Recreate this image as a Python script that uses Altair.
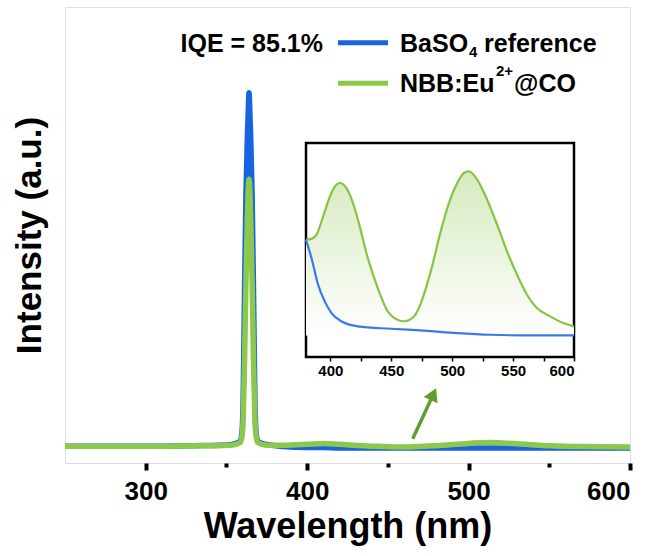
import altair as alt
import pandas as pd

# ---------------- data ----------------
wavelength = [250, 280, 310, 330, 345, 352, 356, 358.5, 359.7, 360.4, 361.2, 362.1, 363, 363.5,
              364, 364.5, 365, 365.9, 366.8, 367.6, 368.3, 369.5, 372, 376,
              385, 400, 410, 420, 440, 458, 480, 500, 512, 530, 550, 570, 600]
baso4 = [0.037, 0.037, 0.037, 0.038, 0.039,
         0.040, 0.043, 0.048, 0.07, 0.15, 0.37, 0.59, 0.72, 0.77, 0.812, 0.77, 0.72, 0.59, 0.37,
         0.15, 0.07, 0.048, 0.043, 0.040,
         0.036, 0.034, 0.034, 0.033, 0.033, 0.033, 0.033, 0.033, 0.033, 0.033, 0.033, 0.033, 0.033]
sample = [0.037, 0.037, 0.037, 0.038, 0.038,
          0.039, 0.041, 0.045, 0.06, 0.10, 0.22, 0.40, 0.54, 0.60, 0.622, 0.60, 0.54, 0.40, 0.22,
          0.10, 0.06, 0.045, 0.041, 0.039,
          0.039, 0.041, 0.043, 0.041, 0.037, 0.035, 0.038, 0.043, 0.045, 0.042, 0.038, 0.036, 0.035]

inset_wl_sample = [380, 385, 388.6, 395.4, 400.8, 404.9, 407.6, 413.1, 418.5, 422.6, 430.7, 438.9,
                   447.1, 452.5, 460.7, 468.8, 474.3, 482.4, 490.6, 497.4, 504.2, 509.7, 513.7,
                   520.5, 528.7, 536.9, 545.0, 553.2, 561.4, 569.5, 580.4, 591.3, 600]
inset_sample = [0.548, 0.553, 0.572, 0.681, 0.766, 0.805, 0.813, 0.790, 0.720, 0.642, 0.463, 0.322,
                0.213, 0.182, 0.167, 0.190, 0.252, 0.400, 0.587, 0.720, 0.813, 0.860, 0.868,
                0.829, 0.735, 0.618, 0.494, 0.385, 0.291, 0.229, 0.190, 0.159, 0.143]
inset_wl_baso4 = [380, 384.5, 389.9, 395.4, 400.8, 409.0, 422.6, 449.8, 477.0, 504.2, 531.4, 558.6, 600]
inset_baso4 = [0.548, 0.463, 0.338, 0.260, 0.206, 0.167, 0.143, 0.132, 0.123, 0.112, 0.104, 0.101, 0.101]

main_ticks = [300, 350, 400, 450, 500, 550, 600]
inset_ticks = [400, 425, 450, 475, 500, 525, 550, 575, 600]

arrow_tail = [465.4, 0.053]
arrow_head = [478.2, 0.151]

BLUE = "#1764e0"
GREEN = "#8cc84b"
INSET_BLUE = "#3b7ae6"
INSET_GREEN = "#86c441"
ARROW = "#5f9e2f"
FONT = "Liberation Sans"

main_df = pd.DataFrame({"wl": wavelength, "baso4": baso4, "sample": sample})
inset_s = pd.DataFrame({"wl": inset_wl_sample, "v": inset_sample})
inset_b = pd.DataFrame({"wl": inset_wl_baso4, "v": inset_baso4})
frame_df = pd.DataFrame({"x0": [380], "x1": [600], "y0": [0.0], "y1": [1.0]})
arrow_df = pd.DataFrame({"x": [arrow_tail[0]], "y": [arrow_tail[1]],
                         "x2": [arrow_head[0]], "y2": [arrow_head[1]]})
one = pd.DataFrame({"a": [0]})

# ---------------- main panel ----------------
xscale = alt.Scale(domain=[250, 600], nice=False, zero=False)
yscale = alt.Scale(domain=[0, 1], nice=False, zero=False)

xaxis = alt.Axis(
    orient="bottom",
    values=main_ticks,
    labelExpr="datum.value % 100 == 0 ? datum.label : ''",
    tickSize={"condition": {"test": "datum.value % 100 == 0", "value": 7}, "value": 4},
    tickWidth=4, tickColor="black", domain=False, grid=False,
    labelFontSize=26, labelFontWeight="bold", labelColor="black", labelPadding=8,
    title="Wavelength (nm)", titleFontSize=36, titleFontWeight="bold", titleColor="black",
    titlePadding=5,
)
yaxis = alt.Axis(
    orient="left",
    labels=False, ticks=False, domain=False, grid=False,
    title="Intensity (a.u.)", titleFontSize=35, titleFontWeight="bold", titleColor="black",
    titlePadding=18,
)

base = alt.Chart(main_df)
blue_line = base.mark_line(color=BLUE, strokeWidth=5.5, interpolate="monotone").encode(
    x=alt.X("wl:Q", scale=xscale, axis=xaxis),
    y=alt.Y("baso4:Q", scale=yscale, axis=yaxis),
)
green_line = base.mark_line(color=GREEN, strokeWidth=5.5, interpolate="monotone").encode(
    x=alt.X("wl:Q", scale=xscale, axis=xaxis),
    y=alt.Y("sample:Q", scale=yscale, axis=yaxis),
)
arrow_line = alt.Chart(arrow_df).mark_rule(color=ARROW, strokeWidth=3.5).encode(
    x=alt.X("x:Q", scale=xscale, axis=xaxis), x2="x2:Q",
    y=alt.Y("y:Q", scale=yscale, axis=yaxis), y2="y2:Q",
)
arrow_tip = alt.Chart(arrow_df).mark_point(
    shape="triangle-up", filled=True, size=230, angle=24.6, color=ARROW, opacity=1
).encode(
    x=alt.X("x2:Q", scale=xscale, axis=xaxis),
    y=alt.Y("y2:Q", scale=yscale, axis=yaxis),
)

# legend / annotation text
def txt(s, x, y, size=25, align="left"):
    return alt.Chart(one).mark_text(
        text=s, fontSize=size, fontWeight="bold", font=FONT, color="black",
        align=align, baseline="alphabetic"
    ).encode(x=alt.value(x), y=alt.value(y))

def seg(color, y):
    return alt.Chart(one).mark_rule(color=color, strokeWidth=5).encode(
        x=alt.value(273), x2=alt.value(323), y=alt.value(y))

legend = [
    txt("IQE = 85.1%", 258, 45.3, align="right"),
    seg(BLUE, 35.7),
    seg(GREEN, 76.3),
    txt("BaSO", 335, 44.7),
    txt("4", 404, 50.3, size=15),
    txt("reference", 419, 44.7),
    txt("NBB:Eu", 335, 84.7),
    txt("2+", 431, 68.7, size=15),
    txt("@CO", 449, 84.7),
]

main = alt.layer(blue_line, green_line, arrow_line, arrow_tip, *legend)

# ---------------- inset ----------------
ixscale = alt.Scale(domain=[380, 600], range=[241, 509], nice=False, zero=False)
iyscale = alt.Scale(domain=[0, 1], range=[350, 136], nice=False, zero=False)
ixaxis = alt.Axis(
    orient="bottom",
    values=inset_ticks,
    labelExpr="datum.value % 50 == 0 ? datum.label : ''",
    tickSize=4, tickWidth=1.5, tickColor="black", domain=False, grid=False,
    labelFontSize=15, labelFontWeight="bold", labelColor="black", labelPadding=2,
    offset=-106, title=None,
)

frame = alt.Chart(frame_df).mark_rect(fill="white", stroke="black", strokeWidth=2.5).encode(
    x=alt.X("x0:Q", scale=ixscale, axis=ixaxis), x2="x1:Q",
    y=alt.Y("y0:Q", scale=iyscale, axis=None), y2="y1:Q",
)
fill = alt.Chart(inset_s).mark_area(
    interpolate="monotone",
    color=alt.Gradient(
        gradient="linear",
        stops=[alt.GradientStop(color="#d6eabf", offset=0),
               alt.GradientStop(color="#ffffff", offset=1)],
        x1=1, x2=1, y1=0, y2=1,
    ),
).encode(
    x=alt.X("wl:Q", scale=ixscale, axis=ixaxis),
    y=alt.Y("v:Q", scale=iyscale, axis=None),
    y2=alt.datum(0.1),
)
inset_green_line = alt.Chart(inset_s).mark_line(color=INSET_GREEN, strokeWidth=2.2, interpolate="monotone").encode(
    x=alt.X("wl:Q", scale=ixscale, axis=ixaxis),
    y=alt.Y("v:Q", scale=iyscale, axis=None),
)
inset_blue_line = alt.Chart(inset_b).mark_line(color=INSET_BLUE, strokeWidth=2.2, interpolate="monotone").encode(
    x=alt.X("wl:Q", scale=ixscale, axis=ixaxis),
    y=alt.Y("v:Q", scale=iyscale, axis=None),
)
inset = alt.layer(frame, fill, inset_blue_line, inset_green_line)

chart = alt.layer(main, inset).resolve_scale(x="independent", y="independent").properties(
    width=565, height=456,
    autosize=alt.AutoSizeParams(type="none"),
    padding={"left": 65, "top": 7, "right": 24, "bottom": 93},
    background="white",
).configure_view(stroke="black", strokeWidth=5).configure(font=FONT)

chart.save("out.html", embed_options={"renderer": "svg", "actions": False})
